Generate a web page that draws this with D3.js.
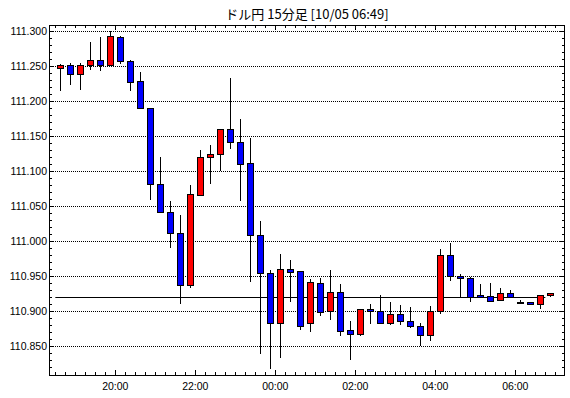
<!DOCTYPE html>
<html>
<head>
<meta charset="utf-8">
<script src="https://cdn.jsdelivr.net/npm/d3@7"></script>
<style>
  body { margin: 0; background: #fff; }
</style>
</head>
<body>
<div id="chart"></div>
<script>
// 15 minute candles, start time of each bar
const times = [
  "18:30","18:45","19:00","19:15","19:30","19:45","20:00","20:15","20:30","20:45",
  "21:00","21:15","21:30","21:45","22:00","22:15","22:30","22:45","23:00","23:15",
  "23:30","23:45","00:00","00:15","00:30","00:45","01:00","01:15","01:30","01:45",
  "02:00","02:15","02:30","02:45","03:00","03:15","03:30","03:45","04:00","04:15",
  "04:30","04:45","05:00","05:15","05:30","05:45","06:00","06:15","06:30","06:45"
];
const open = [
  111.247,111.251,111.238,111.251,111.259,111.252,111.291,111.257,111.228,111.190,
  111.082,111.042,111.012,110.938,111.066,111.121,111.125,111.160,111.142,111.112,
  111.009,110.955,110.884,110.960,110.957,110.883,110.940,110.900,110.927,110.873,
  110.868,110.904,110.900,110.884,110.897,110.887,110.879,110.867,110.901,110.980,
  110.950,110.947,110.923,110.922,110.916,110.926,110.914,110.913,110.910,110.923
];
const high = [
  111.253,111.255,111.255,111.284,111.291,111.300,111.293,111.258,111.241,111.190,
  111.120,111.057,111.037,111.081,111.130,111.137,111.160,111.233,111.174,111.147,
  111.029,110.959,110.982,110.974,110.957,110.946,110.948,110.959,110.939,110.886,
  110.903,110.910,110.923,110.913,110.909,110.906,110.883,110.908,110.989,110.998,
  110.953,110.949,110.939,110.940,110.933,110.931,110.916,110.914,110.923,110.926
];
const low = [
  111.215,111.223,111.216,111.245,111.243,111.252,111.253,111.215,111.190,111.059,
  111.042,110.990,110.910,110.934,111.065,111.082,111.100,111.132,111.058,110.942,
  110.839,110.818,110.833,110.913,110.874,110.870,110.894,110.888,110.865,110.831,
  110.865,110.882,110.884,110.881,110.881,110.876,110.850,110.858,110.897,110.944,
  110.920,110.914,110.919,110.913,110.916,110.921,110.911,110.909,110.904,110.920
];
const close = [
  111.251,111.238,111.251,111.259,111.252,111.293,111.257,111.227,111.190,111.082,
  111.042,111.012,110.937,111.067,111.121,111.125,111.160,111.142,111.111,111.009,
  110.955,110.884,110.960,110.956,110.879,110.942,110.899,110.927,110.872,110.868,
  110.903,110.900,110.884,110.897,110.887,110.879,110.867,110.901,110.980,110.950,
  110.947,110.921,110.921,110.915,110.926,110.921,110.913,110.910,110.923,110.926
];
const priceTicks = [110.850, 110.900, 110.950, 111.000, 111.050, 111.100, 111.150, 111.200, 111.250, 111.300];
const timeLabels = ["20:00", "22:00", "00:00", "02:00", "04:00", "06:00"];
const refPrice = 110.921;
const title = "ドル円 15分足 [10/05 06:49]";

const W = 570, H = 398;
const plot = { left: 49, top: 25, right: 565, bottom: 375 };

// evening times belong to 10/04, the rest to 10/05
function parseTime(s) {
  const [h, m] = s.split(":").map(Number);
  return new Date(2021, 9, h >= 12 ? 4 : 5, h, m);
}

const data = times.map((t, i) => ({
  t: parseTime(t), o: open[i], h: high[i], l: low[i], c: close[i]
}));

const svg = d3.select("#chart").append("svg")
  .attr("width", W)
  .attr("height", H)
  .style("font-family", "'Liberation Sans', Arial, sans-serif");

const x = d3.scaleTime()
  .domain([new Date(2021, 9, 4, 18, 20, 30), new Date(2021, 9, 5, 7, 14, 30)])
  .range([plot.left, plot.right]);

const y = d3.scaleLinear()
  .domain([110.8093, 111.3086])
  .range([plot.bottom, plot.top]);

const crisp = v => Math.round(v) + 0.5;

// title
svg.append("text")
  .attr("x", (plot.left + plot.right) / 2)
  .attr("y", 15)
  .attr("text-anchor", "middle")
  .attr("dominant-baseline", "middle")
  .style("font-family", "'Noto Sans CJK JP', sans-serif")
  .style("font-size", "13px")
  .text(title);

// dotted grid
svg.append("g").selectAll("line")
  .data(priceTicks)
  .enter().append("line")
  .attr("x1", plot.left).attr("x2", plot.right)
  .attr("y1", d => crisp(y(d))).attr("y2", d => crisp(y(d)))
  .attr("stroke", "#000")
  .attr("stroke-dasharray", "1,1");

// price labels
svg.append("g").selectAll("text")
  .data(priceTicks)
  .enter().append("text")
  .attr("x", plot.left - 2)
  .attr("y", d => y(d) + 1)
  .attr("text-anchor", "end")
  .attr("dominant-baseline", "middle")
  .style("font-size", "10.5px")
  .text(d => d.toFixed(3));

// y ticks every 0.01, longer on the 0.05 lines
const yMinor = d3.range(11081, 11131).map(v => v / 100);
const isMajorY = v => Math.round(v * 100) % 5 === 0;
const yt = svg.append("g").attr("stroke", "#000");
yMinor.forEach(v => {
  const len = isMajorY(v) ? 5 : 3;
  const yy = crisp(y(v));
  yt.append("line").attr("x1", plot.left).attr("x2", plot.left + len).attr("y1", yy).attr("y2", yy);
  yt.append("line").attr("x1", plot.right).attr("x2", plot.right - len).attr("y1", yy).attr("y2", yy);
});

// x ticks every 15 minutes, longer on even hours
const xTicks = d3.timeMinute.every(15).range(new Date(2021, 9, 4, 18, 30), new Date(2021, 9, 5, 7, 1));
const xt = svg.append("g").attr("stroke", "#000");
xTicks.forEach(t => {
  const major = t.getMinutes() === 0 && t.getHours() % 2 === 0;
  const len = major ? 5 : 3;
  const xx = crisp(x(t));
  xt.append("line").attr("x1", xx).attr("x2", xx).attr("y1", plot.bottom).attr("y2", plot.bottom - len);
  xt.append("line").attr("x1", xx).attr("x2", xx).attr("y1", plot.top).attr("y2", plot.top + len);
});

// time labels
svg.append("g").selectAll("text")
  .data(timeLabels)
  .enter().append("text")
  .attr("x", d => x(parseTime(d)))
  .attr("y", 387)
  .attr("text-anchor", "middle")
  .attr("dominant-baseline", "middle")
  .style("font-size", "10.5px")
  .text(d => d);

// reference price line
svg.append("line")
  .attr("x1", x(data[0].t))
  .attr("x2", x(data[data.length - 1].t))
  .attr("y1", crisp(y(refPrice)))
  .attr("y2", crisp(y(refPrice)))
  .attr("stroke", "#000");

// candles
const candles = svg.append("g").selectAll("g")
  .data(data)
  .enter().append("g");

const cx = d => Math.round(x(d.t) + 5) + 0.5;

candles.append("line")
  .attr("x1", cx).attr("x2", cx)
  .attr("y1", d => Math.round(y(d.h)))
  .attr("y2", d => Math.round(y(d.l)))
  .attr("stroke", "#000");

candles.append("rect")
  .attr("x", d => cx(d) - 3)
  .attr("width", 6)
  .attr("y", d => Math.round(y(Math.max(d.o, d.c))) + 0.5)
  .attr("height", d => Math.max(1, Math.round(y(Math.min(d.o, d.c))) - Math.round(y(Math.max(d.o, d.c)))))
  .attr("fill", d => d.c >= d.o ? "#ff0000" : "#0000ff")
  .attr("stroke", "#000");

// frame
svg.append("rect")
  .attr("x", plot.left + 0.5)
  .attr("y", plot.top + 0.5)
  .attr("width", plot.right - plot.left - 1)
  .attr("height", plot.bottom - plot.top)
  .attr("fill", "none")
  .attr("stroke", "#000");
</script>
</body>
</html>
